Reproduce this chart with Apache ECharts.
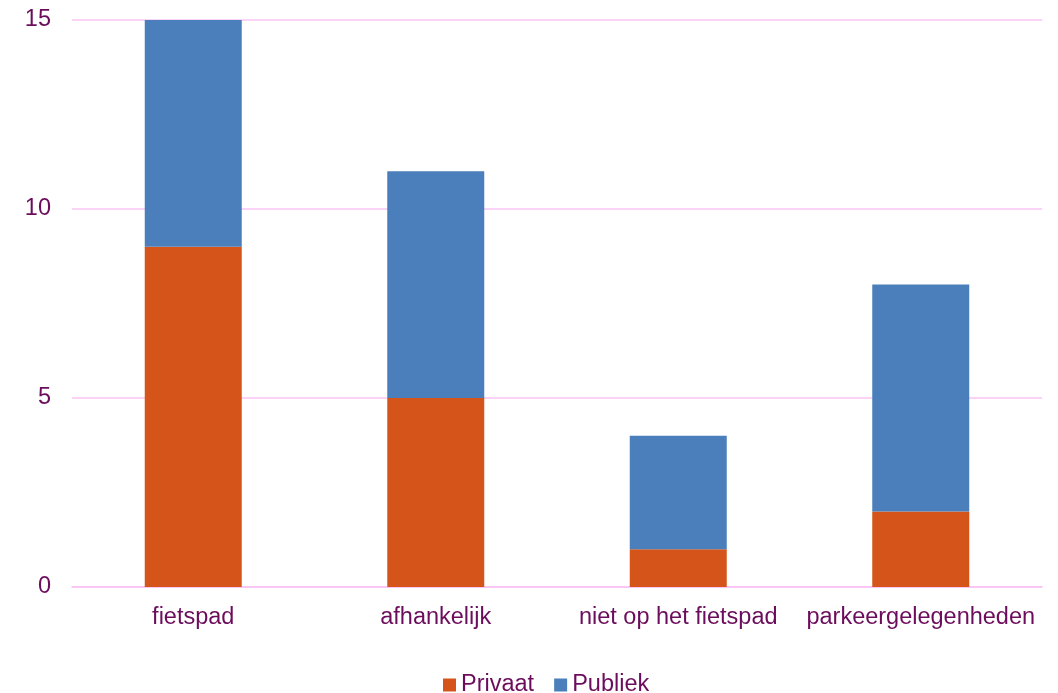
<!DOCTYPE html>
<html><head><meta charset="utf-8">
<script src="https://cdn.jsdelivr.net/npm/echarts@6/dist/echarts.min.js"></script>
<style>html,body{margin:0;padding:0;background:#fff}#c{width:1058px;height:693px}</style>
</head><body><div id="c"></div>
<script>
const categories = ['fietspad', 'afhankelijk', 'niet op het fietspad', 'parkeergelegenheden'];
const privaat = [9, 5, 1, 2];
const publiek = [6, 6, 3, 6];
const yTicks = [0, 5, 10, 15];
const txt = '#6B0D5C';
const chart = echarts.init(document.getElementById('c'));
chart.setOption({
  animation: false,
  textStyle: {fontFamily: 'Liberation Sans, Arial, sans-serif'},
  grid: {left: 72, right: 16, top: 20, bottom: 106, containLabel: false},
  legend: {
    bottom: -9, left: 438, itemWidth: 13, itemHeight: 13, itemGap: 20,
    icon: 'rect',
    textStyle: {color: txt, fontSize: 23.5},
    data: ['Privaat', 'Publiek']
  },
  xAxis: {
    type: 'category', data: categories,
    axisLine: {show: true, lineStyle: {color: '#FAC4F3', width: 1.5}},
    axisTick: {show: false},
    axisLabel: {color: txt, fontSize: 23.5, margin: 19, interval: 0}
  },
  yAxis: {
    type: 'value', min: yTicks[0], max: yTicks[yTicks.length - 1], interval: 5,
    axisLine: {show: false}, axisTick: {show: false},
    splitLine: {lineStyle: {color: '#FAC4F3', width: 1.5}},
    axisLabel: {color: txt, fontSize: 23.5, margin: 21}
  },
  series: [
    {name: 'Privaat', type: 'bar', stack: 's', data: privaat, barWidth: '40%', itemStyle: {color: '#D5541A'}},
    {name: 'Publiek', type: 'bar', stack: 's', data: publiek, barWidth: '40%', itemStyle: {color: '#4A7FBB'}}
  ]
});
</script></body></html>
